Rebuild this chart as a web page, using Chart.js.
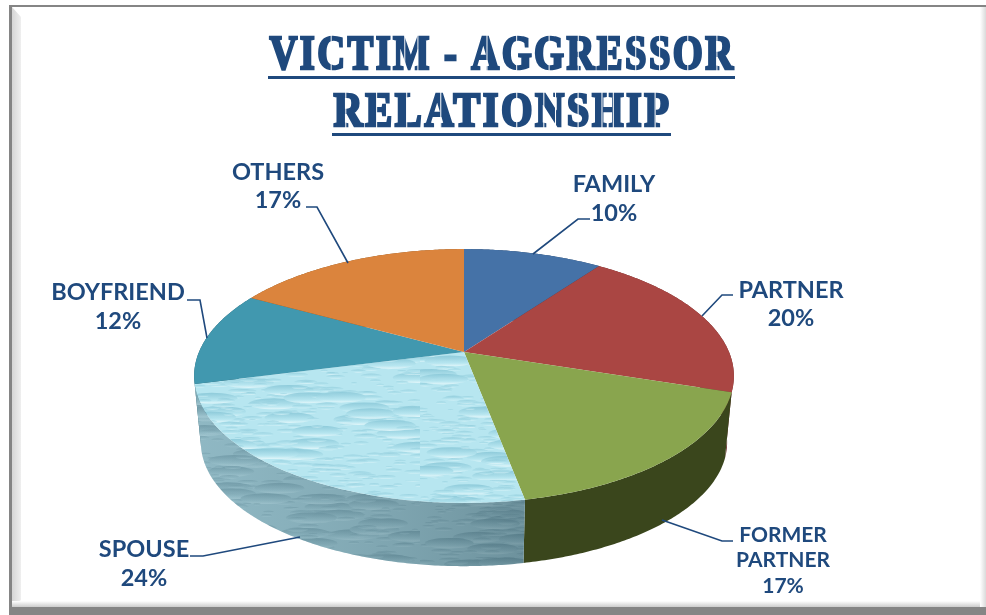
<!DOCTYPE html>
<html>
<head>
<meta charset="utf-8">
<title>Victim - Aggressor Relationship</title>
<script src="https://cdn.jsdelivr.net/npm/chart.js@4/dist/chart.umd.min.js"></script>
<style>
  html, body { margin: 0; padding: 0; background: #fff; }
  canvas { display: block; }
</style>
</head>
<body>
<canvas id="chart" width="986" height="615"></canvas>
<script>
const categories = ["FAMILY", "PARTNER", "FORMER PARTNER", "SPOUSE", "BOYFRIEND", "OTHERS"];
const shares = [10, 20, 17, 24, 12, 17];
const titleLines = ["VICTIM - AGGRESSOR", "RELATIONSHIP"];

const topColors = ["#4572A7", "#AA4643", "#89A54E", "#B5E5EF", "#4198AF", "#DB843D"];
const sideColors = ["#2A4465", "#662A28", "#3A461C", "#7FA6B2", "#275B69", "#83501F"];
const inkColor = "#1F497D";

// perspective of the pie, relative to the radius chart.js gives the arcs
const persp = { rx: 1.0076, ry: 0.4654, k: 0.189, baseScale: 0.975, depth: 67 };

// text lines and leader lines around the pie, one entry per category
const labelLayout = [
  { lines: ["FAMILY"], x: 614, y: 184, size: 23.5, gap: 29, leader: [[590, 219], [578, 219], [533, 254]] },
  { lines: ["PARTNER"], x: 791, y: 290, size: 23.5, gap: 28, leader: [[733, 295], [722, 295], [702, 316]] },
  { lines: ["FORMER", "PARTNER"], x: 783, y: 535, size: 21, gap: 25.5, leader: [[733, 541], [722, 541], [662, 520]] },
  { lines: ["SPOUSE"], x: 144, y: 549, size: 23.5, gap: 29, leader: [[190, 556], [203, 556], [300, 537]] },
  { lines: ["BOYFRIEND"], x: 118, y: 292, size: 23.5, gap: 29, leader: [[187, 300], [200, 300], [207, 338]] },
  { lines: ["OTHERS"], x: 278, y: 172, size: 23.5, gap: 28, leader: [[306, 207], [317, 207], [348, 263]] }
];

// where the stencil bridges cut each letter: x as a part of the letter width
const stencilCuts = { R: [0.42], E: [0.42], A: [0.56], G: [0.5], O: [0.5], C: [0.5], S: [0.5], P: [0.44], L: [0.44], M: [0.32, 0.68], N: [0.3, 0.7], H: [0.32, 0.68] };

// rough water look for the spouse slice, hash instead of Math.random so it stays the same
function hash(n) {
  const s = Math.sin(n * 127.1 + 311.7) * 43758.5453;
  return s - Math.floor(s);
}

function waterPattern(base, dark, light, count, seed, bigShare) {
  const c = document.createElement("canvas");
  c.width = 420; c.height = 240;
  const g = c.getContext("2d");
  g.fillStyle = base;
  g.fillRect(0, 0, c.width, c.height);
  for (let i = 0; i < count; i++) {
    const x = hash(seed + i * 3) * c.width;
    const y = hash(seed + i * 3 + 1) * c.height;
    const r = hash(seed + i * 3 + 2);
    const big = r > 1 - bigShare;
    const w = big ? 12 + r * 14 : 3 + r * 10;
    const h = big ? 3 + r * 2.5 : 0.9 + r * 1.4;
    const grad = g.createLinearGradient(0, y - h, 0, y + h);
    grad.addColorStop(0, dark);
    grad.addColorStop(0.7, base);
    grad.addColorStop(1, light);
    g.globalAlpha = big ? 0.9 : 0.65;
    g.fillStyle = grad;
    g.beginPath();
    g.ellipse(x, y, w, h, 0, 0, Math.PI * 2);
    g.fill();
  }
  g.globalAlpha = 1;
  return c;
}

const canvas = document.getElementById("chart");
const ctx = canvas.getContext("2d");
const waterTop = ctx.createPattern(waterPattern("#B7E6F0", "#8AC8D8", "#E6F8FB", 1300, 5, 0.1), "repeat");
const waterSide = ctx.createPattern(waterPattern("#86AFBB", "#5F8997", "#A0C4CE", 900, 91, 0.12), "repeat");
const topFills = topColors.map((c, i) => i === 3 ? waterTop : c);
const sideFills = sideColors.map((c, i) => i === 3 ? waterSide : c);

function project(arc, angle, base) {
  const R = arc.outerRadius;
  const u = Math.cos(angle), v = Math.sin(angle);
  const w = 1 - persp.k * v;
  const s = base ? persp.baseScale : 1;
  return {
    x: arc.x + s * R * persp.rx * u / w,
    y: arc.y + (base ? persp.depth : 0) + s * R * persp.ry * v / w
  };
}

function arcPoints(arc, base) {
  const pts = [];
  const n = Math.max(2, Math.ceil((arc.endAngle - arc.startAngle) / 0.01));
  for (let i = 0; i <= n; i++) {
    pts.push(project(arc, arc.startAngle + (arc.endAngle - arc.startAngle) * i / n, base));
  }
  return pts;
}

function tracePoints(c, pts) {
  pts.forEach((p, i) => i ? c.lineTo(p.x, p.y) : c.moveTo(p.x, p.y));
}

const framePlugin = {
  id: "frame",
  beforeDraw(chart) {
    const c = chart.ctx;
    c.save();
    c.fillStyle = "#fff";
    c.fillRect(0, 0, 986, 615);
    let g = c.createLinearGradient(12, 0, 21, 0);
    g.addColorStop(0, "#D6D6D6");
    g.addColorStop(1, "#EFEFEF");
    c.fillStyle = g;
    c.beginPath();
    c.moveTo(12, 7); c.lineTo(21, 17); c.lineTo(21, 600); c.lineTo(12, 607);
    c.fill();
    g = c.createLinearGradient(0, 601, 0, 608);
    g.addColorStop(0, "#FFFFFF");
    g.addColorStop(1, "#C4C4C4");
    c.fillStyle = g;
    c.fillRect(12, 601, 974, 7);
    g = c.createLinearGradient(980, 0, 986, 0);
    g.addColorStop(0, "#FFFFFF");
    g.addColorStop(1, "#DADADA");
    c.fillStyle = g;
    c.fillRect(980, 7, 6, 601);
    c.fillStyle = "#858585";
    c.fillRect(9, 5, 977, 2);
    c.fillRect(9, 5, 3, 610);
    c.fillRect(9, 607, 977, 8);
    c.restore();
  }
};

const piePlugin = {
  id: "pie3d",
  beforeDatasetDraw(chart, args) {
    const c = chart.ctx;
    const arcs = chart.getDatasetMeta(args.index).data;
    c.save();
    // walls far to near so the front ones stay on top
    const order = arcs.map((a, i) => i).sort((a, b) =>
      Math.sin((arcs[a].startAngle + arcs[a].endAngle) / 2) - Math.sin((arcs[b].startAngle + arcs[b].endAngle) / 2));
    order.forEach(i => {
      const arc = arcs[i];
      c.beginPath();
      tracePoints(c, arcPoints(arc, false));
      arcPoints(arc, true).reverse().forEach(p => c.lineTo(p.x, p.y));
      c.closePath();
      c.fillStyle = sideFills[i];
      c.fill();
      if (i === 3) {
        const shade = c.createLinearGradient(200, 0, 525, 0);
        shade.addColorStop(0, "rgba(170,210,220,0.25)");
        shade.addColorStop(1, "rgba(70,100,110,0.4)");
        c.fillStyle = shade;
        c.fill();
      }
    });
    arcs.forEach((arc, i) => {
      c.beginPath();
      c.moveTo(arc.x, arc.y);
      arcPoints(arc, false).forEach(p => c.lineTo(p.x, p.y));
      c.closePath();
      c.fillStyle = topFills[i];
      c.fill();
    });
    c.restore();
    return false;
  },
  afterDraw(chart) {
    const c = chart.ctx;
    c.save();
    c.fillStyle = inkColor;
    c.strokeStyle = inkColor;

    // title, stretched to the reference width, thickened with a stroke, then cut like a stencil
    const titleBoxes = [{ x: 268, w: 467, base: 69, rule: 76 }, { x: 332, w: 339, base: 126, rule: 133 }];
    titleLines.forEach((line, i) => {
      const b = titleBoxes[i];
      c.font = "bold 48px 'Liberation Serif'";
      c.letterSpacing = "3px";
      c.textAlign = "left";
      c.textBaseline = "alphabetic";
      c.lineJoin = "miter";
      c.lineWidth = 2.6;
      const sx = (b.w - 1) / c.measureText(line).width;
      c.save();
      c.translate(b.x + 1.5, b.base);
      c.scale(sx, 1);
      c.fillText(line, 0, 0);
      c.strokeText(line, 0, 0);
      c.fillStyle = "#fff";
      for (let k = 0; k < line.length; k++) {
        const cuts = stencilCuts[line[k]] || [];
        const x0 = c.measureText(line.slice(0, k)).width;
        const w = c.measureText(line[k]).width - 3;
        cuts.forEach(f => c.fillRect(x0 + w * f - 0.6, -35, 1.2, 37));
      }
      c.restore();
      c.fillRect(b.x, b.rule, b.w, 3);
    });
    c.letterSpacing = "0px";

    // labels and leaders
    c.textAlign = "center";
    c.textBaseline = "middle";
    labelLayout.forEach((l, i) => {
      c.font = "bold " + l.size + "px Lato";
      const rows = l.lines.concat([shares[i] + "%"]);
      rows.forEach((t, r) => c.fillText(t, l.x, l.y + r * l.gap));
      c.beginPath();
      l.leader.forEach((p, j) => j ? c.lineTo(p[0], p[1]) : c.moveTo(p[0], p[1]));
      c.lineWidth = 1.6;
      c.stroke();
    });
    c.restore();
  }
};

new Chart(ctx, {
  type: "pie",
  data: {
    labels: categories,
    datasets: [{ data: shares, backgroundColor: topColors, borderWidth: 0 }]
  },
  options: {
    responsive: false,
    animation: false,
    layout: { padding: { top: 89, right: 58 } },
    plugins: { legend: { display: false }, tooltip: { enabled: false }, title: { display: false } }
  },
  plugins: [framePlugin, piePlugin]
});
</script>
</body>
</html>
